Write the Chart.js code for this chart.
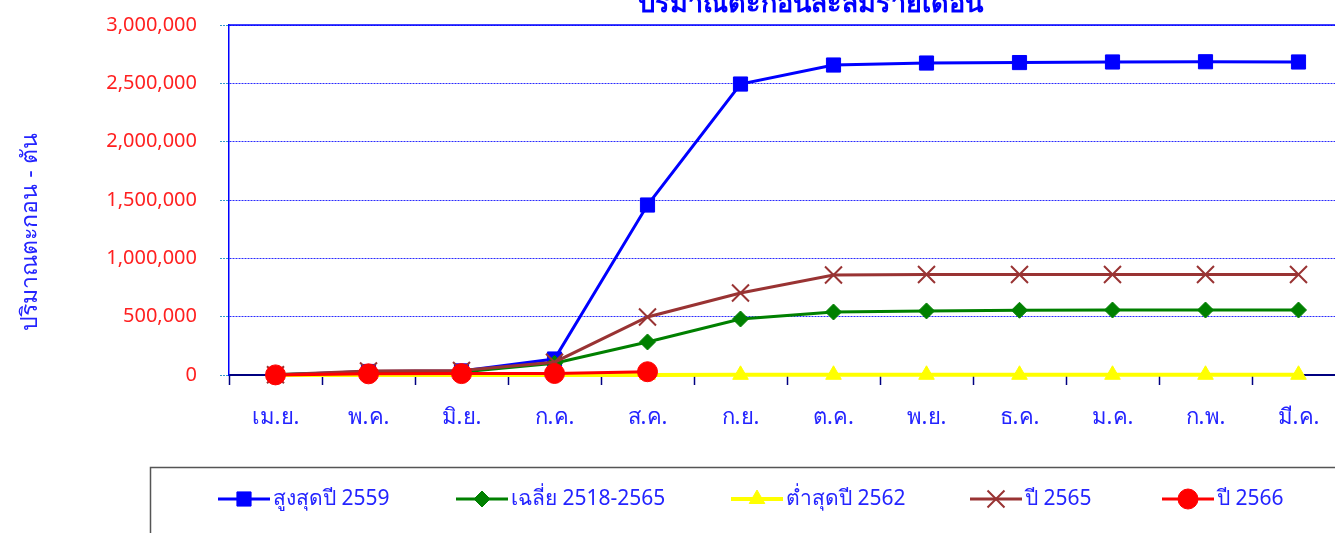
<!DOCTYPE html>
<html><head><meta charset="utf-8">
<script src="https://cdn.jsdelivr.net/npm/chart.js@4/dist/chart.umd.min.js"></script>
<style>
html,body{margin:0;padding:0;background:#fff;overflow:hidden;width:1335px;height:533px}
#wrap{position:absolute;left:0;top:0;width:1360px;height:533px}
</style></head><body><div id="wrap"><canvas id="c" width="1360" height="533"></canvas></div>
<script>
const months = ['เม.ย.','พ.ค.','มิ.ย.','ก.ค.','ส.ค.','ก.ย.','ต.ค.','พ.ย.','ธ.ค.','ม.ค.','ก.พ.','มี.ค.'];
const max2559 = [0, 30000, 35000, 137000, 1457000, 2494000, 2657000, 2674000, 2678000, 2683000, 2685000, 2683000];
const avg2518_2565 = [5000, 20000, 25000, 100000, 283000, 480000, 540000, 549000, 555000, 557000, 557000, 557000];
const min2562 = [0, 0, 0, 500, 1000, 1500, 2000, 2000, 2000, 2000, 2000, 2000];
const y2565 = [2000, 35000, 38000, 110000, 497000, 703000, 857000, 861000, 862000, 862000, 862000, 862000];
const y2566 = [1000, 10000, 12000, 13000, 28000, null, null, null, null, null, null, null];
const seriesNames = ['สูงสุดปี 2559', 'เฉลี่ย 2518-2565', 'ต่ำสุดปี 2562', 'ปี 2565', 'ปี 2566'];
const chartTitle = 'ปริมาณตะกอนสะสมรายเดือน';
const yTitle = 'ปริมาณตะกอน - ตัน';
const yMin = 0, yMax = 3000000, yStep = 500000;

const FONT = "Tahoma, 'Noto Sans', 'Liberation Sans', sans-serif";
const TEXT_BLUE = '#2424ff';

const styles = [
  {color:'#0000ff', style:'rect', r:10, bw:3},
  {color:'#008000', style:'rectRot', r:8, bw:3},
  {color:'#ffff00', style:'triangle', r:9, bw:4},
  {color:'#993333', style:'crossRot', r:12, bw:3},
  {color:'#ff0000', style:'circle', r:10, bw:3}
];
const seriesData = [max2559, avg2518_2565, min2562, y2565, y2566];
const orders = [4, 3, 2, 1, 0];

const datasets = seriesData.map((d, i) => ({
  label: seriesNames[i],
  data: d,
  borderColor: styles[i].color,
  backgroundColor: styles[i].color,
  borderWidth: styles[i].bw,
  pointStyle: styles[i].style,
  pointRadius: styles[i].r,
  pointHoverRadius: styles[i].r,
  pointBorderWidth: styles[i].style === 'crossRot' ? 2 : 1,
  pointBorderColor: styles[i].color,
  pointBackgroundColor: styles[i].color,
  tension: 0,
  clip: false,
  order: orders[i],
  spanGaps: false
}));

const decor = {
  id: 'decor',
  afterDraw(chart) {
    const ctx = chart.ctx, ca = chart.chartArea;
    ctx.save();
    ctx.strokeStyle = '#0000ff'; ctx.lineWidth = 1.5; ctx.setLineDash([]);
    ctx.beginPath(); ctx.moveTo(ca.left, ca.top); ctx.lineTo(ca.right, ca.top); ctx.stroke();
    ctx.fillStyle = '#0000ff';
    ctx.font = "bold 27px " + FONT;
    ctx.textAlign = 'center'; ctx.textBaseline = 'alphabetic';
    ctx.fillText(chartTitle, 810, 12);
    ctx.save();
    ctx.translate(30, 232); ctx.rotate(-Math.PI/2);
    ctx.font = "23px " + FONT; ctx.fillStyle = TEXT_BLUE;
    ctx.textAlign = 'center'; ctx.textBaseline = 'middle';
    ctx.fillText(yTitle, 0, 0);
    ctx.restore();
    ctx.strokeStyle = '#555'; ctx.lineWidth = 1.5;
    ctx.strokeRect(150.5, 467.5, 1200, 100);
    const starts = [218, 456, 731, 970, 1162];
    const ly = 499;
    chart.data.datasets.forEach((ds, i) => {
      const x0 = starts[i];
      ctx.strokeStyle = ds.borderColor; ctx.lineWidth = ds.borderWidth;
      ctx.beginPath(); ctx.moveTo(x0, ly); ctx.lineTo(x0 + 52, ly); ctx.stroke();
      const popts = {pointStyle: ds.pointStyle, radius: ds.pointRadius, rotation: 0, borderWidth: ds.pointBorderWidth};
      ctx.fillStyle = ds.pointBackgroundColor; ctx.strokeStyle = ds.pointBorderColor;
      ctx.lineWidth = ds.pointBorderWidth;
      Chart.helpers.drawPoint(ctx, popts, x0 + 26, ly);
      ctx.fillStyle = TEXT_BLUE; ctx.font = "21px " + FONT;
      ctx.textAlign = 'left'; ctx.textBaseline = 'middle';
      ctx.fillText(ds.label, x0 + 55, ly);
    });
    ctx.restore();
  }
};

new Chart(document.getElementById('c'), {
  type: 'line',
  data: { labels: months, datasets },
  options: {
    responsive: false,
    animation: false,
    events: [],
    layout: { padding: { left: 0, top: 25, right: 15, bottom: 0 } },
    plugins: { legend: { display: false }, title: { display: false }, tooltip: { enabled: false } },
    scales: {
      x: {
        offset: true,
        grid: { offset: true, drawOnChartArea: false, tickLength: 10, tickColor: '#000080', tickWidth: 1.5 },
        border: { color: '#000080', width: 2 },
        ticks: { color: TEXT_BLUE, font: { family: FONT, size: 22 }, padding: 20, maxRotation: 0, autoSkip: false },
        afterFit(s) { s.height = 533 - 375; s.paddingLeft = 0; s.paddingRight = 0; }
      },
      y: {
        min: yMin, max: yMax,
        grid: { color: '#2a2aff', lineWidth: 1, tickLength: 9, tickColor: '#3399cc', tickBorderDash: [2, 1] },
        border: { color: '#0000ff', width: 1.5, dash: [2, 1] },
        ticks: { stepSize: yStep, color: '#ff2020', font: { family: FONT, size: 20 }, padding: 23,
          callback: v => v.toLocaleString('en-US') },
        afterFit(s) { s.width = 229; s.paddingTop = 0; s.paddingBottom = 0; }
      }
    }
  },
  plugins: [decor]
});
</script></body></html>
